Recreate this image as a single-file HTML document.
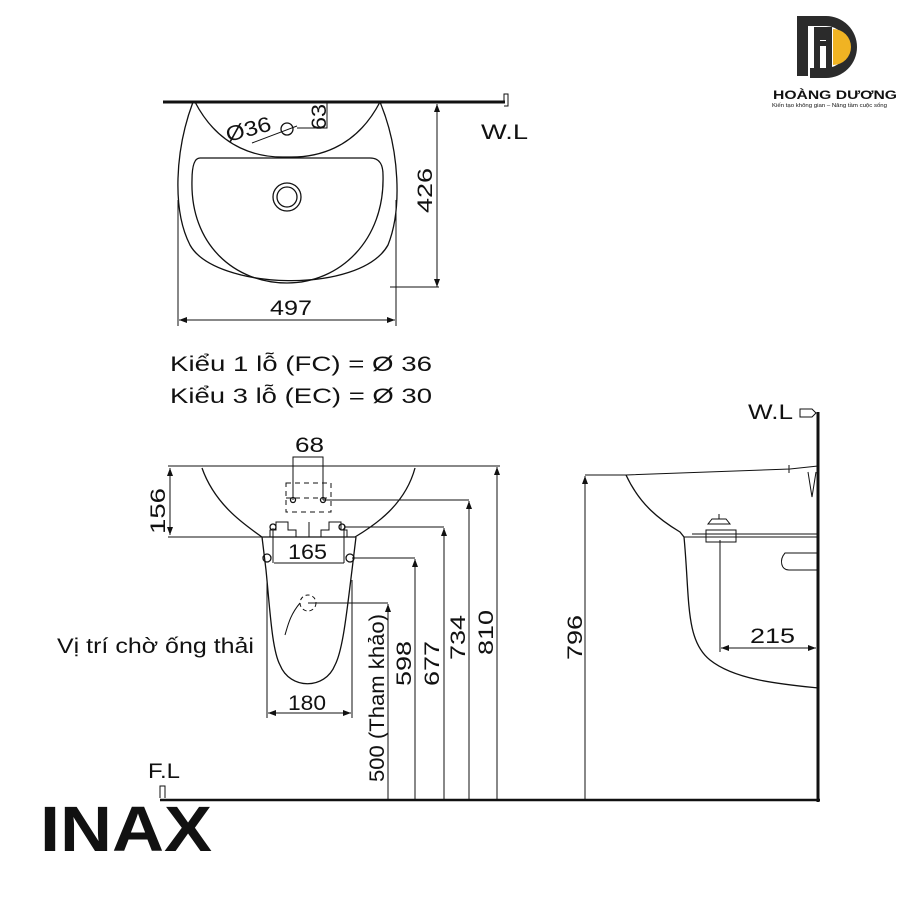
<!DOCTYPE html>
<html><head><meta charset="utf-8"><style>
html,body{margin:0;padding:0;background:#fff;width:900px;height:900px;overflow:hidden}
text{font-family:"Liberation Sans",sans-serif;fill:#111}
</style></head><body>
<svg width="900" height="900" viewBox="0 0 900 900" xmlns="http://www.w3.org/2000/svg">
<defs>
<marker id="a" markerWidth="8" markerHeight="6" refX="8" refY="3" orient="auto-start-reverse" markerUnits="userSpaceOnUse"><path d="M0,0L8,3L0,6z" fill="#111"/></marker>
</defs>
<g stroke="#111" fill="none" stroke-width="1.3">
<!-- TOP VIEW -->
<line x1="163" y1="102" x2="505" y2="102" stroke-width="3"/>
<path d="M504,102 v-8 h4 v12 h-4" stroke-width="1"/>
<path d="M193,102 C175,150 172,210 190,245 C215,290 360,295 388,245 C402,210 400,150 380,102"/>
<path d="M195,102 C220,150 260,158 287,157 C315,158 355,150 380,102"/>
<path d="M200,158 H370 C380,158 383,165 383,175 C385,240 340,283 287,283 C235,283 190,245 192,180 C192,165 195,158 200,158z"/>
<circle cx="287" cy="197" r="14"/><circle cx="287" cy="197" r="10"/>
<circle cx="287" cy="129" r="6"/>
<path d="M252,143 L297,126 M297,128 H327 V102" stroke-width="1"/>
<line x1="437" y1="104" x2="437" y2="287" stroke-width="1" marker-start="url(#a)" marker-end="url(#a)"/>
<line x1="390" y1="287" x2="439" y2="287" stroke-width="1"/>
<line x1="178" y1="200" x2="178" y2="326" stroke-width="1"/>
<line x1="396" y1="200" x2="396" y2="326" stroke-width="1"/>
<line x1="179" y1="320" x2="395" y2="320" stroke-width="1" marker-start="url(#a)" marker-end="url(#a)"/>

<!-- FRONT VIEW -->
<line x1="168" y1="466" x2="500" y2="466" stroke-width="1"/>
<path d="M202,468 C215,505 245,525 262,537 H355 C375,525 405,505 415,468"/>
<line x1="168" y1="537" x2="262" y2="537" stroke-width="1"/>
<line x1="170" y1="468" x2="170" y2="535" stroke-width="1" marker-start="url(#a)" marker-end="url(#a)"/>
<path d="M262,537 L266,570 C270,610 272,650 280,665 C290,690 325,690 335,665 C343,650 347,610 352,570 L356,537"/>
<path d="M270,537 V530 H276 V522 H288 V530 H296 V537 M347,537 V530 H341 V522 H329 V530 H321 V537" stroke-width="1"/>
<line x1="309" y1="522" x2="309" y2="537" stroke-width="1"/>
<circle cx="273" cy="527" r="3"/><circle cx="342" cy="527" r="3"/>
<circle cx="267" cy="558" r="4"/><circle cx="350" cy="558" r="4"/>
<line x1="273" y1="528" x2="273" y2="563" stroke-width="1"/>
<line x1="344" y1="528" x2="344" y2="563" stroke-width="1"/>
<line x1="274" y1="563" x2="344" y2="563" stroke-width="1"/>
<rect x="286" y="483" width="45" height="29" stroke-dasharray="5,4" stroke-width="1"/>
<line x1="286" y1="498" x2="331" y2="498" stroke-dasharray="5,4" stroke-width="1"/>
<circle cx="293" cy="500" r="2.5"/><circle cx="323" cy="500" r="2.5"/>
<path d="M293,500 V457 H323 V500" stroke-width="1"/>
<path d="M323,500 H469 M344,527 H444 M352,558 H415 M308,603 H388" stroke-width="1"/>
<path d="M300,603 C290,615 288,625 285,635" stroke-width="1"/>
<circle cx="308" cy="603" r="8" stroke-dasharray="4,3" stroke-width="1"/>
<line x1="267" y1="580" x2="267" y2="718" stroke-width="1"/>
<line x1="352" y1="580" x2="352" y2="718" stroke-width="1"/>
<line x1="268" y1="713" x2="351" y2="713" stroke-width="1" marker-start="url(#a)" marker-end="url(#a)"/>
<line x1="388" y1="604" x2="388" y2="800" stroke-width="1" marker-start="url(#a)"/>
<line x1="415" y1="559" x2="415" y2="800" stroke-width="1" marker-start="url(#a)"/>
<line x1="444" y1="528" x2="444" y2="800" stroke-width="1" marker-start="url(#a)"/>
<line x1="469" y1="501" x2="469" y2="800" stroke-width="1" marker-start="url(#a)"/>
<line x1="497" y1="467" x2="497" y2="800" stroke-width="1" marker-start="url(#a)"/>

<!-- FLOOR / WALL -->
<line x1="160" y1="800" x2="820" y2="800" stroke-width="2.5"/>
<path d="M160,798 v-12 h5 v12" stroke-width="1"/>
<line x1="818" y1="412" x2="818" y2="802" stroke-width="3"/>
<path d="M800,409 h12 l4,4 l-4,4 h-12z" stroke-width="1"/>

<!-- SIDE VIEW -->
<line x1="585" y1="476" x2="585" y2="800" stroke-width="1" marker-start="url(#a)"/>
<path d="M585,475 H626 L790,469 L818,466" stroke-width="1"/>
<path d="M626,475 C640,505 660,520 680,532 L684,537 C690,600 685,640 710,660 C735,680 780,684 818,688"/>
<line x1="684" y1="537" x2="818" y2="537" stroke-width="1"/>
<line x1="692" y1="534" x2="818" y2="534" stroke-width="1"/>
<path d="M706,530 h30 v12 h-30z M708,524 h22 l-4,-5 h-14z M719,519 v-5" stroke-width="1"/>
<path d="M785,553 h32 v17 h-28 c-8,0 -10,-10 -4,-17z" stroke-width="1"/>
<path d="M808,472 l4,25 l4,-25" stroke-width="1"/>
<line x1="789" y1="465" x2="789" y2="473" stroke-width="1"/>
<line x1="720" y1="540" x2="720" y2="652" stroke-width="1"/>
<line x1="721" y1="648" x2="816" y2="648" stroke-width="1" marker-start="url(#a)" marker-end="url(#a)"/>
</g>

<!-- TEXT -->
<g font-size="21" lengthAdjust="spacingAndGlyphs">
<text x="228" y="142" transform="rotate(-15 228 142)" textLength="46" lengthAdjust="spacingAndGlyphs">Ø36</text>
<text x="326" y="130" transform="rotate(-90 326 130)" textLength="26" lengthAdjust="spacingAndGlyphs">63</text>
<text x="481" y="139" textLength="47" lengthAdjust="spacingAndGlyphs">W.L</text>
<text x="432" y="213" transform="rotate(-90 432 213)" textLength="45" lengthAdjust="spacingAndGlyphs">426</text>
<text x="270" y="315" textLength="42" lengthAdjust="spacingAndGlyphs">497</text>
<text x="170" y="371" textLength="262" lengthAdjust="spacingAndGlyphs">Kiểu 1 lỗ (FC) = Ø 36</text>
<text x="170" y="403" textLength="262" lengthAdjust="spacingAndGlyphs">Kiểu 3 lỗ (EC) = Ø 30</text>
<text x="295" y="452" textLength="29" lengthAdjust="spacingAndGlyphs">68</text>
<text x="165" y="534" transform="rotate(-90 165 534)" textLength="46" lengthAdjust="spacingAndGlyphs">156</text>
<text x="288" y="559" textLength="39" lengthAdjust="spacingAndGlyphs">165</text>
<text x="57" y="653" textLength="197" lengthAdjust="spacingAndGlyphs">Vị trí chờ ống thải</text>
<text x="288" y="710" textLength="38" lengthAdjust="spacingAndGlyphs">180</text>
<text x="384" y="782" transform="rotate(-90 384 782)" textLength="168" lengthAdjust="spacingAndGlyphs">500 (Tham khảo)</text>
<text x="411" y="686" transform="rotate(-90 411 686)" textLength="45" lengthAdjust="spacingAndGlyphs">598</text>
<text x="439" y="686" transform="rotate(-90 439 686)" textLength="45" lengthAdjust="spacingAndGlyphs">677</text>
<text x="465" y="660" transform="rotate(-90 465 660)" textLength="45" lengthAdjust="spacingAndGlyphs">734</text>
<text x="493" y="655" transform="rotate(-90 493 655)" textLength="45" lengthAdjust="spacingAndGlyphs">810</text>
<text x="582" y="660" transform="rotate(-90 582 660)" textLength="45" lengthAdjust="spacingAndGlyphs">796</text>
<text x="748" y="419" textLength="45" lengthAdjust="spacingAndGlyphs">W.L</text>
<text x="750" y="643" textLength="45" lengthAdjust="spacingAndGlyphs">215</text>
<text x="148" y="778" textLength="32" lengthAdjust="spacingAndGlyphs">F.L</text>
</g>
<text x="40" y="851" font-size="64" font-weight="bold" textLength="172" lengthAdjust="spacingAndGlyphs">INAX</text>

<!-- LOGO -->
<g>
<path d="M797,16 h11 v60 h-11z" fill="#2b2b2b"/>
<path d="M808,16 h18 a31,31 0 0 1 0,62 h-16 v-10 h16 a21,21 0 0 0 0,-42 h-18z" fill="#2b2b2b"/>
<path d="M814,27 h6 v14 h6 v-14 h0 v0 M814,27 h6 v50 h-6z M826,27 h6 v50 h-6z M820,40 h6 v6 h-6z" fill="#2b2b2b"/>
<path d="M833,29 a18,18 0 0 1 0,36z" fill="#f0b323"/>
<text x="773" y="99" font-size="12" font-weight="bold" fill="#2b2b2b" textLength="124" lengthAdjust="spacingAndGlyphs">HOÀNG DƯƠNG</text>
<text x="772" y="107" font-size="5" fill="#333" textLength="115" lengthAdjust="spacingAndGlyphs">Kiến tạo không gian – Nâng tầm cuộc sống</text>
</g>
</svg>
</body></html>
